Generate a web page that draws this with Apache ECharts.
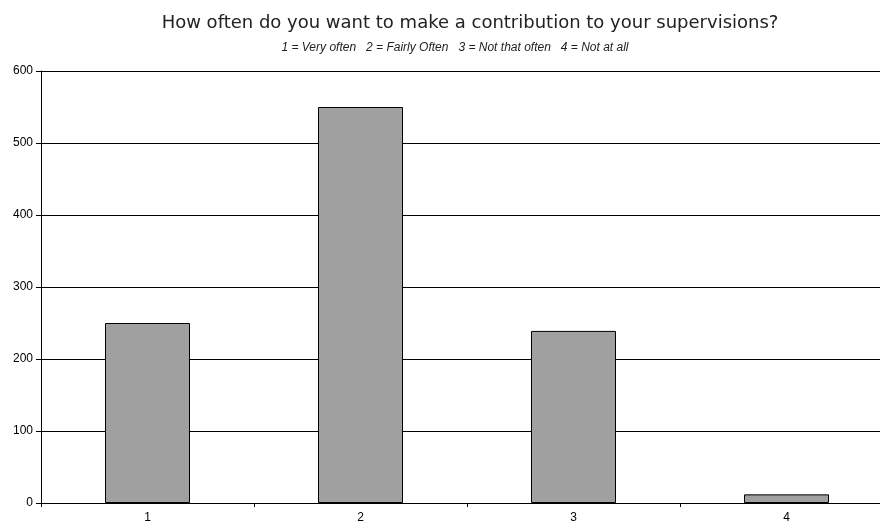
<!DOCTYPE html>
<html>
<head>
<meta charset="utf-8">
<script src="https://cdn.jsdelivr.net/npm/echarts@6/dist/echarts.min.js"></script>
<style>
  html, body { margin: 0; padding: 0; background: #fff; }
  #main { width: 880px; height: 524px; }
</style>
</head>
<body>
<div id="main"></div>
<script>
const categories = ['1', '2', '3', '4'];
const responses = [250, 550, 239, 12];
const yTicks = [0, 100, 200, 300, 400, 500, 600];

const chart = echarts.init(document.getElementById('main'), null, { renderer: 'canvas' });

chart.setOption({
  backgroundColor: '#fff',
  animation: false,
  title: [{
    text: 'How often do you want to make a contribution to your supervisions?',
    left: 465,
    top: 9,
    textAlign: 'center',
    textStyle: {
      fontFamily: 'DejaVu Sans',
      fontSize: 18,
      fontWeight: 'normal',
      color: '#222'
    }
  }, {
    text: '1 = Very often   2 = Fairly Often   3 = Not that often   4 = Not at all',
    left: 450,
    top: 37,
    textAlign: 'center',
    textStyle: {
      fontFamily: 'Liberation Sans',
      fontSize: 12,
      fontStyle: 'italic',
      fontWeight: 'normal',
      color: '#222'
    }
  }],
  grid: {
    left: 41,
    top: 71,
    width: 852,
    height: 432,
    containLabel: false,
    outerBoundsMode: 'none'
  },
  xAxis: {
    type: 'category',
    data: categories,
    axisLine: { lineStyle: { color: '#000', width: 1 } },
    axisTick: { show: true, length: 4, alignWithLabel: false, lineStyle: { color: '#000' } },
    axisLabel: { fontFamily: 'Liberation Sans', fontSize: 12, color: '#000', margin: 9 },
    splitLine: { show: false }
  },
  yAxis: {
    type: 'value',
    min: yTicks[0],
    max: yTicks[yTicks.length - 1],
    interval: 100,
    axisLine: { show: true, lineStyle: { color: '#000', width: 1 } },
    axisTick: { show: true, length: 5, lineStyle: { color: '#000' } },
    axisLabel: { fontFamily: 'Liberation Sans', fontSize: 12, color: '#000', margin: 8 },
    splitLine: { show: true, lineStyle: { color: '#000', width: 1 } }
  },
  series: [{
    type: 'bar',
    data: responses,
    barWidth: 85,
    itemStyle: {
      color: '#a0a0a0',
      borderColor: '#000',
      borderWidth: 1
    }
  }]
});
</script>
</body>
</html>
